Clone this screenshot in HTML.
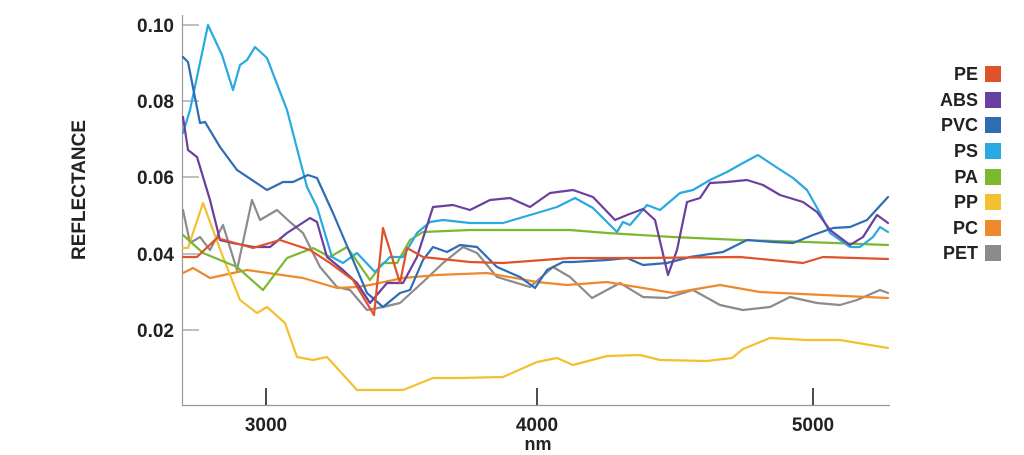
<!DOCTYPE html>
<html><head><meta charset="utf-8"><style>
body{margin:0;background:#fff;}
svg{display:block;font-family:"Liberation Sans",sans-serif;font-weight:bold;}
polyline{fill:none;stroke-width:2.2;stroke-linejoin:round;stroke-linecap:round;}
</style></head><body>
<svg width="1024" height="455" viewBox="0 0 1024 455">
<g stroke="#999" stroke-width="1.2">
<line x1="182.5" y1="15" x2="182.5" y2="406"/>
<line x1="182" y1="405.5" x2="890" y2="405.5"/>
<line x1="182" y1="25" x2="199" y2="25"/>
<line x1="182" y1="101" x2="199" y2="101"/>
<line x1="182" y1="177" x2="199" y2="177"/>
<line x1="182" y1="254" x2="199" y2="254"/>
<line x1="182" y1="330" x2="199" y2="330"/>
</g>
<g stroke="#222" stroke-width="1.6">
<line x1="266" y1="388" x2="266" y2="405"/>
<line x1="537" y1="388" x2="537" y2="405"/>
<line x1="813" y1="388" x2="813" y2="405"/>
</g>
<g font-size="19" fill="#222" text-anchor="end">
<text x="174" y="32">0.10</text>
<text x="174" y="108">0.08</text>
<text x="174" y="184">0.06</text>
<text x="174" y="261">0.04</text>
<text x="174" y="337">0.02</text>
</g>
<g font-size="19" fill="#222" text-anchor="middle">
<text x="266" y="431">3000</text>
<text x="537" y="431">4000</text>
<text x="813" y="431">5000</text>
<text x="538" y="450" font-size="18">nm</text>
</g>
<text transform="translate(85,190) rotate(-90)" font-size="19" fill="#222" text-anchor="middle">REFLECTANCE</text>

<polyline stroke="#8c8c8c" points="183,210 190,243 200,237 210,250 223,225 237,270 252,200 260,220 277,210 290,222 303,233 320,267 337,287 350,290 367,310 383,307 400,303 423,282 443,263 463,247 477,253 497,277 530,287 553,267 570,277 592,298 620,283 643,297 667,298 693,290 720,305 743,310 770,307 790,297 817,303 840,305 857,300 880,290 888,293"/>
<polyline stroke="#ef8a2c" points="183,273 193,268 210,278 247,270 303,278 337,288 357,287 370,285 403,278 437,275 487,273 537,282 567,285 607,282 673,293 720,285 760,292 888,298"/>
<polyline stroke="#f3c030" points="183,248 188,248 203,203 223,257 240,300 257,313 267,307 285,323 297,357 313,360 327,357 357,390 403,390 433,378 460,378 503,377 537,362 557,358 573,365 607,356 640,355 660,360 707,361 732,358 743,349 770,338 807,340 840,340 888,348"/>
<polyline stroke="#7cb82f" points="183,235 203,253 237,267 263,290 287,258 313,248 330,257 347,247 370,280 383,263 397,263 410,240 423,232 470,230 570,230 607,233 673,237 740,240 807,242 888,245"/>
<polyline stroke="#29a9e0" points="183,133 190,110 208,25 222,55 233,90 240,65 247,60 255,47 267,58 287,110 307,187 317,207 332,257 343,263 357,253 375,272 390,257 403,257 417,233 430,222 443,220 470,223 503,223 537,213 557,207 575,198 593,208 617,232 623,222 630,225 647,205 660,210 680,193 693,190 710,180 727,172 743,163 758,155 773,165 793,178 807,190 820,213 830,233 850,247 860,247 873,237 880,227 888,232"/>
<polyline stroke="#2e6db4" points="183,57 188,62 200,123 205,122 220,147 237,170 267,190 283,182 293,182 308,175 317,178 333,213 350,253 367,293 383,307 400,293 410,290 423,260 433,247 447,252 460,245 477,247 497,267 520,277 535,288 547,270 563,262 573,262 607,260 627,258 643,265 667,263 690,257 723,252 747,240 773,242 793,243 813,235 833,228 850,227 867,220 888,197"/>
<polyline stroke="#6b3fa0" points="183,117 188,150 197,157 210,200 220,240 233,243 253,247 270,247 287,233 310,218 317,222 327,257 343,270 357,283 370,303 387,283 403,283 417,257 433,207 453,205 470,210 490,200 510,198 530,207 550,193 573,190 593,197 615,220 627,215 643,209 655,220 668,275 677,250 687,202 700,198 710,183 727,182 747,180 763,185 780,195 803,202 817,212 830,230 850,245 863,237 877,215 888,223"/>
<polyline stroke="#e0522a" points="183,257 197,257 217,238 253,248 280,240 310,250 330,263 353,280 374,315 383,228 400,283 407,248 423,257 470,262 503,263 570,258 640,258 740,257 803,263 823,257 888,259"/>

<g font-size="18" fill="#222" text-anchor="end">
<text x="978" y="80">PE</text>
<text x="978" y="106">ABS</text>
<text x="978" y="131">PVC</text>
<text x="978" y="157">PS</text>
<text x="978" y="183">PA</text>
<text x="978" y="208">PP</text>
<text x="978" y="234">PC</text>
<text x="978" y="259">PET</text>
</g>
<rect x="985" y="66" width="16" height="16" fill="#e0522a"/>
<rect x="985" y="92" width="16" height="16" fill="#6b3fa0"/>
<rect x="985" y="117" width="16" height="16" fill="#2e6db4"/>
<rect x="985" y="143" width="16" height="16" fill="#29a9e0"/>
<rect x="985" y="169" width="16" height="16" fill="#7cb82f"/>
<rect x="985" y="194" width="16" height="16" fill="#f3c030"/>
<rect x="985" y="220" width="16" height="16" fill="#ef8a2c"/>
<rect x="985" y="245" width="16" height="16" fill="#8c8c8c"/>
</svg>
</body></html>
